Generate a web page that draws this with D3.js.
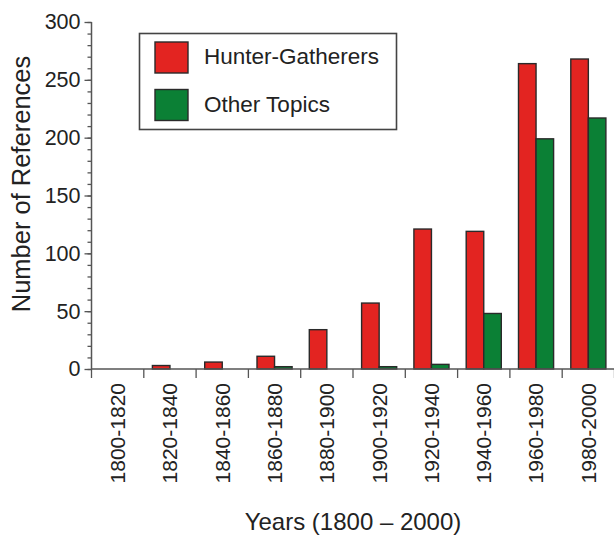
<!DOCTYPE html>
<html>
<head>
<meta charset="utf-8">
<script src="https://cdn.jsdelivr.net/npm/d3@7"></script>
<style>
    body { margin: 0; background: #fff; }
    text { font-family: "Liberation Sans", Arial, Helvetica, sans-serif; fill: #222; }
</style>
</head>
<body>
<script>
(function () {
    var width = 614;
    var height = 535;

    // data
    var periods = ["1800-1820", "1820-1840", "1840-1860", "1860-1880", "1880-1900",
        "1900-1920", "1920-1940", "1940-1960", "1960-1980", "1980-2000"];
    var hunterGatherers = [0, 3, 6, 11, 34, 57, 121, 119, 264, 268];
    var otherTopics = [0, 0, 0, 2, 0, 2, 4, 48, 199, 217];
    var seriesNames = ["Hunter-Gatherers", "Other Topics"];
    var seriesColors = ["#e32421", "#0b8035"];
    var majorTicks = [0, 50, 100, 150, 200, 250, 300];

    var left = 91.5, right = 614.5, top = 22, bottom = 369;

    var svg = d3.select("body").append("svg")
        .attr("width", width)
        .attr("height", height);

    var xScale = d3.scaleBand()
        .domain(periods)
        .range([left, right])
        .padding(0);

    var subScale = d3.scaleBand()
        .domain(seriesNames)
        .range([0, xScale.bandwidth()])
        .paddingInner(0)
        .paddingOuter(0.49);

    var yScale = d3.scaleLinear()
        .domain([0, 300])
        .range([bottom, top]);

    var rows = periods.map(function (p, i) {
        return { period: p, values: [hunterGatherers[i], otherTopics[i]] };
    });

    // bars
    var groups = svg.append("g")
        .selectAll("g")
        .data(rows)
        .enter()
        .append("g")
        .attr("transform", function (d) { return "translate(" + xScale(d.period) + ",0)"; });

    groups.selectAll("rect")
        .data(function (d) {
            return d.values.map(function (v, j) { return { name: seriesNames[j], value: v, idx: j }; })
                .filter(function (e) { return e.value > 0; });
        })
        .enter()
        .append("rect")
        .attr("x", function (d) { return subScale(d.name); })
        .attr("y", function (d) { return yScale(d.value); })
        .attr("width", subScale.bandwidth())
        .attr("height", function (d) { return yScale(0) - yScale(d.value); })
        .attr("fill", function (d) { return seriesColors[d.idx]; })
        .attr("stroke", "#2a2a2a")
        .attr("stroke-width", 1.4);

    // y axis: minor ticks then major ticks with labels
    svg.append("g")
        .attr("transform", "translate(" + left + ",0)")
        .call(d3.axisLeft(yScale).tickValues(d3.range(0, 301, 10)).tickSize(4).tickFormat(""));
    var yMajor = svg.append("g")
        .attr("transform", "translate(" + left + ",0)")
        .call(d3.axisLeft(yScale).tickValues(majorTicks).tickSize(7).tickPadding(4));
    svg.selectAll(".domain").remove();
    yMajor.selectAll("text").style("font-size", "21.5px").attr("fill", "#222");
    svg.selectAll(".tick line").attr("stroke", "#555").attr("stroke-width", 1.3);

    svg.append("line")
        .attr("x1", left).attr("x2", left)
        .attr("y1", yScale(300)).attr("y2", yScale(0))
        .attr("stroke", "#555").attr("stroke-width", 1.5);

    // x axis: baseline, boundary ticks, rotated labels
    svg.append("line")
        .attr("x1", left).attr("x2", right)
        .attr("y1", yScale(0)).attr("y2", yScale(0))
        .attr("stroke", "#555").attr("stroke-width", 1.5);

    var bounds = periods.map(function (p) { return xScale(p); });
    bounds.push(xScale(periods[periods.length - 1]) + xScale.bandwidth());
    svg.append("g")
        .selectAll("line")
        .data(bounds)
        .enter()
        .append("line")
        .attr("x1", function (d) { return d; })
        .attr("x2", function (d) { return d; })
        .attr("y1", yScale(0))
        .attr("y2", yScale(0) + 9)
        .attr("stroke", "#555")
        .attr("stroke-width", 1.3);

    svg.append("g")
        .selectAll("text")
        .data(periods)
        .enter()
        .append("text")
        .attr("transform", function (d) {
            return "translate(" + (xScale(d) + xScale.bandwidth() / 2) + "," + (yScale(0) + 14) + ") rotate(-90)";
        })
        .attr("dy", "0.35em")
        .style("text-anchor", "end")
        .style("font-size", "21px")
        .text(function (d) { return d; });

    // axis titles
    svg.append("text")
        .attr("x", (left + right) / 2)
        .attr("y", 530)
        .style("text-anchor", "middle")
        .style("font-size", "24px")
        .text("Years (1800 \u2013 2000)");

    svg.append("text")
        .attr("transform", "translate(30," + 184 + ") rotate(-90)")
        .style("text-anchor", "middle")
        .style("font-size", "25.5px")
        .text("Number of References");

    // legend
    var legend = svg.append("g");
    legend.append("rect")
        .attr("x", 139.5).attr("y", 33.5)
        .attr("width", 257).attr("height", 96)
        .attr("fill", "#fff")
        .attr("stroke", "#444")
        .attr("stroke-width", 1.6);

    var items = legend.selectAll("g.item")
        .data(seriesNames)
        .enter()
        .append("g")
        .attr("class", "item")
        .attr("transform", function (d, i) { return "translate(155," + (42 + i * 47.5) + ")"; });
    items.append("rect")
        .attr("width", 33).attr("height", 31)
        .attr("fill", function (d, i) { return seriesColors[i]; })
        .attr("stroke", "#2a2a2a")
        .attr("stroke-width", 1.4);
    items.append("text")
        .attr("x", 49)
        .attr("y", 22)
        .style("font-size", "22.5px")
        .text(function (d) { return d; });
})();
</script>
</body>
</html>
